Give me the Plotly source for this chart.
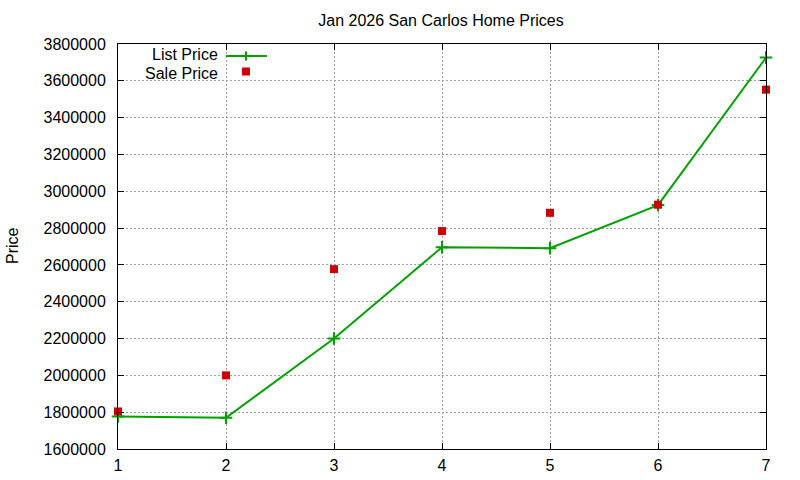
import plotly.graph_objects as go

# Jan 2026 San Carlos home prices
months = [1, 2, 3, 4, 5, 6, 7]
list_price = [1777000, 1770000, 2200000, 2696000, 2691000, 2925000, 3726000]
sale_price = [1804000, 2000000, 2577000, 2784000, 2883000, 2927000, 3552000]

GREEN = "#00a000"
RED = "#cc0000"
FONT = "Liberation Sans"
FS = 16

# plot box in pixels (800x480 page)
L, R, T, B = 118, 34, 44, 31
PW, PH = 800 - L - R, 480 - T - B


def px(x):
    return (x - L) / PW


def py(y):
    return (480 - B - y) / PH


fig = go.Figure()

fig.add_trace(
    go.Scatter(
        x=months,
        y=list_price,
        mode="lines+markers",
        name="List Price",
        line=dict(color=GREEN, width=2),
        marker=dict(symbol="cross-thin", size=9, line=dict(color=GREEN, width=2)),
        cliponaxis=False,
        showlegend=False,
    )
)

fig.add_trace(
    go.Scatter(
        x=months,
        y=sale_price,
        mode="markers",
        name="Sale Price",
        marker=dict(symbol="square", size=8, color=RED),
        cliponaxis=False,
        showlegend=False,
    )
)

axis_common = dict(
    showline=True,
    linecolor="black",
    linewidth=1,
    mirror="allticks",
    ticks="inside",
    ticklen=6,
    tickcolor="black",
    showgrid=True,
    gridcolor="#a0a0a0",
    griddash="2px,2px",
    gridwidth=1,
    zeroline=False,
    automargin=False,
    tickfont=dict(family=FONT, size=FS, color="black"),
)

fig.update_xaxes(range=[1, 7], dtick=1, tick0=1, ticklabelstandoff=2, **axis_common)
fig.update_yaxes(range=[1600000, 3800000], dtick=200000, tickformat="d",
                 ticklabelstandoff=8, **axis_common)

# gnuplot-style key: text on the left, sample on the right
# text rows spread a touch so the two labels do not collide
key_rows = [("List Price", 54.8), ("Sale Price", 73.0)]
for label, y in key_rows:
    fig.add_annotation(
        x=px(220), y=py(y), xref="paper", yref="paper",
        text=label, showarrow=False, xanchor="right", yanchor="middle",
        font=dict(family=FONT, size=FS, color="black"),
    )

fig.add_shape(type="line", xref="paper", yref="paper",
              x0=px(226), x1=px(267), y0=py(56), y1=py(56),
              line=dict(color=GREEN, width=2))
fig.add_shape(type="line", xref="paper", yref="paper",
              x0=px(246), x1=px(246), y0=py(51.5), y1=py(60.5),
              line=dict(color=GREEN, width=2))
fig.add_shape(type="rect", xref="paper", yref="paper",
              x0=px(242), x1=px(250), y0=py(67.5), y1=py(75.5),
              fillcolor=RED, line=dict(width=0))

fig.add_annotation(
    x=px(12), y=py(246), xref="paper", yref="paper",
    text="Price", showarrow=False, textangle=-90,
    xanchor="center", yanchor="middle",
    font=dict(family=FONT, size=FS, color="black"),
)

fig.update_layout(
    width=800,
    height=480,
    title=dict(
        text="Jan 2026 San Carlos Home Prices",
        x=px(441), xref="paper", xanchor="center",
        y=1 - 20 / 480, yanchor="middle",
        font=dict(family=FONT, size=FS, color="black"),
    ),
    margin=dict(l=L, r=R, t=T, b=B),
    plot_bgcolor="white",
    paper_bgcolor="white",
    showlegend=False,
)

# drop the browser's default body margin so the figure sits at the page corner
fig.write_html(
    "out.html",
    config={"displayModeBar": False},
    post_script="document.body.style.margin='0';",
)
